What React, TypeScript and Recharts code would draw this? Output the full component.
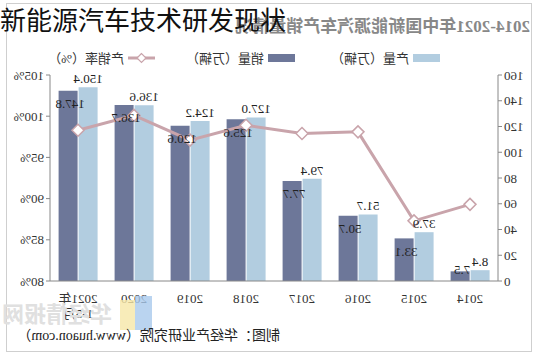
import { ComposedChart, Bar, Line, XAxis, YAxis, Legend, LabelList } from "recharts";

const years = ["2014", "2015", "2016", "2017", "2018", "2019", "2020", "2021年\n1-5月"];
const output = [8.4, 37.9, 51.7, 79.4, 127.0, 124.2, 136.6, 150.4];
const sales = [7.5, 33.1, 50.7, 77.7, 125.6, 120.6, 136.7, 147.8];
const rate = [89.3, 87.3, 98.1, 97.9, 98.9, 97.1, 100.1, 98.3];
const countTicks = [0, 20, 40, 60, 80, 100, 120, 140, 160];
const rateTicks = [80, 85, 90, 95, 100, 105];

const data = years.map((y, i) => ({ year: y, output: output[i], sales: sales[i], rate: rate[i] }));

const FONT = "'Liberation Serif', 'Noto Sans CJK SC', serif";
const DARK = "#6d7799";
const LIGHT = "#b2cde0";
const PINK = "#c9a4ab";

function YearTick({ x, y, payload }: any) {
  const lines = String(payload.value).split("\n");
  return (
    <text x={x} y={y + 14} textAnchor="middle" fill="#333" fontSize={13} fontFamily={FONT}>
      {lines.map((l, i) => (
        <tspan key={i} x={x} dy={i === 0 ? 0 : 15}>
          {l}
        </tspan>
      ))}
    </text>
  );
}

function Diamond({ cx, cy }: any) {
  if (cx == null || cy == null) return null;
  const r = 6;
  return (
    <path
      d={`M${cx},${cy - r}L${cx + r},${cy}L${cx},${cy + r}L${cx - r},${cy}Z`}
      fill="#fff"
      stroke={PINK}
      strokeWidth={1.5}
    />
  );
}

function SalesLabel({ x, y, width, height, value }: any) {
  const cy = Math.min(y + 13, y + height - 12);
  return (
    <text x={x + width / 2 - 2} y={cy} textAnchor="middle" dominantBaseline="central" fill="#222" fontSize={13} fontFamily={FONT}>
      {value.toFixed(1)}
    </text>
  );
}

function LegendBox() {
  const item = (left: number, mark: any, text: string) => (
    <div style={{ position: "absolute", left, top: 0, display: "flex", alignItems: "center", gap: 4 }}>
      {mark}
      <span style={{ fontSize: 13, color: "#333", fontFamily: FONT }}>{text}</span>
    </div>
  );
  return (
    <div style={{ position: "relative", height: 20 }}>
      {item(98, <div style={{ width: 27, height: 8, background: LIGHT }} />, "产量（万辆）")}
      {item(243, <div style={{ width: 27, height: 8, background: DARK }} />, "销量（万辆）")}
      {item(
        383,
        <svg width={27} height={12}>
          <line x1={0} y1={6} x2={27} y2={6} stroke={PINK} strokeWidth={3} />
          <path d="M13.5,1.5L18,6L13.5,10.5L9,6Z" fill="#fff" stroke={PINK} strokeWidth={1.2} />
        </svg>,
        "产销率（%）"
      )}
    </div>
  );
}

export default function App() {
  return (
    <div style={{ position: "absolute", left: 0, top: 0, width: 538, height: 358, background: "#fff", overflow: "hidden" }}>
      <div style={{ position: "absolute", left: 0, top: 0, width: 538, height: 358, transform: "scaleX(-1)" }}>
        <div style={{ position: "absolute", left: 6, top: 3, width: 524, height: 347, border: "1px solid #cfcfcf" }} />
        <div style={{ position: "absolute", left: 8, top: 12, fontSize: 17, fontWeight: 700, color: "#888", fontFamily: FONT, whiteSpace: "nowrap" }}>
          2014-2021年中国新能源汽车产销量情况
        </div>
        <ComposedChart
          width={538}
          height={358}
          data={data}
          margin={{ top: 55, right: 0, bottom: 47, left: 0 }}
          barCategoryGap="15%"
          barGap={1}
          style={{ position: "absolute", left: 0, top: 0 }}
        >
          <XAxis
            dataKey="year"
            interval={0}
            tick={<YearTick />}
            height={30}
            axisLine={{ stroke: "#888" }}
            tickLine={false}
          />
          <YAxis
            yAxisId="count"
            orientation="left"
            domain={[0, 160]}
            ticks={countTicks}
            width={40}
            tick={{ fill: "#333", fontSize: 13, fontFamily: FONT }}
            axisLine={{ stroke: "#888" }}
            tickLine={{ stroke: "#888" }}
            tickSize={4}
          />
          <YAxis
            yAxisId="rate"
            orientation="right"
            domain={[80, 105]}
            ticks={rateTicks}
            width={50}
            tickFormatter={(v) => `${v}%`}
            tick={{ fill: "#333", fontSize: 13, fontFamily: FONT }}
            axisLine={{ stroke: "#888" }}
            tickLine={{ stroke: "#888" }}
            tickSize={4}
          />
          <Legend verticalAlign="top" height={20} wrapperStyle={{ top: 48, left: 0, width: 538 }} content={() => <LegendBox />} />
          <Bar yAxisId="count" dataKey="output" fill={LIGHT} isAnimationActive={false}>
            <LabelList dataKey="output" position="top" offset={4} fill="#222" fontSize={13} fontFamily={FONT} formatter={(v: any) => Number(v).toFixed(1)} />
          </Bar>
          <Bar yAxisId="count" dataKey="sales" fill={DARK} isAnimationActive={false}>
            <LabelList dataKey="sales" content={<SalesLabel />} />
          </Bar>
          <Line
            yAxisId="rate"
            dataKey="rate"
            stroke={PINK}
            strokeWidth={3}
            dot={<Diamond />}
            activeDot={false}
            isAnimationActive={false}
          />
        </ComposedChart>
        <div style={{ position: "absolute", left: 386, top: 296, width: 17, height: 34, background: "#a9c9ec", opacity: 0.8 }} />
        <div style={{ position: "absolute", left: 403, top: 300, width: 15, height: 30, background: "#f6e7a8", opacity: 0.8 }} />
        <div style={{ position: "absolute", left: 426, top: 296, fontSize: 22, fontWeight: 700, color: "#e0e0e0", fontFamily: "'Noto Sans CJK SC', sans-serif", whiteSpace: "nowrap" }}>
          华经情报网
        </div>
        <div style={{ position: "absolute", left: 258, top: 324, fontSize: 14, color: "#222", fontFamily: FONT, whiteSpace: "nowrap" }}>
          制图：华经产业研究院（www.huaon.com）
        </div>
      </div>
      <div style={{ position: "absolute", left: 0, top: 4, fontSize: 26, lineHeight: "30px", color: "#111", fontFamily: "'Noto Sans CJK SC', sans-serif", whiteSpace: "nowrap" }}>
        新能源汽车技术研发现状
      </div>
    </div>
  );
}
